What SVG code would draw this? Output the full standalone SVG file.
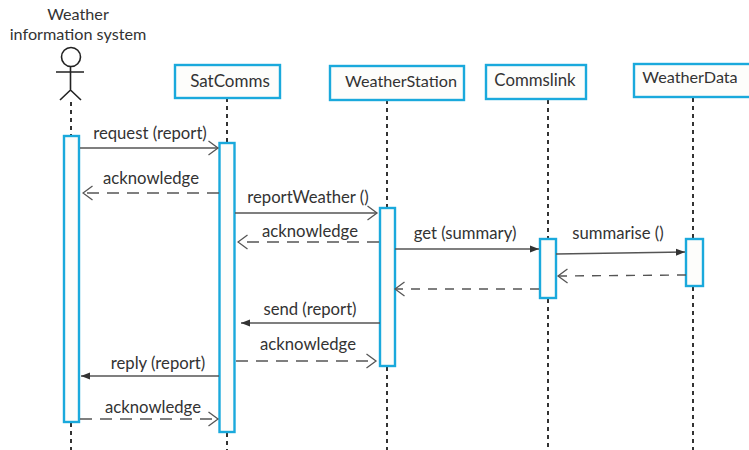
<svg xmlns="http://www.w3.org/2000/svg" width="749" height="450" viewBox="0 0 749 450">
<style>
text{font-family:"Lato","Open Sans","Liberation Sans",sans-serif;font-size:16.2px;fill:#333;text-anchor:middle}
#labels text{font-size:16.7px}
#satcomms text{font-size:17px}
#commslink text{font-size:16.800px}
.box{fill:#fdfdfb;stroke:#1aa9dc;stroke-width:2.4}
.life{stroke:#333;stroke-width:2;stroke-dasharray:4 4;fill:none}
.msg{stroke:#555;stroke-width:1.4;fill:none}
.dash{stroke-dasharray:12 8}
.short{stroke-dasharray:9 8}
.stick{stroke:#222;stroke-width:1.6;fill:none}
</style>
<defs>
<marker id="open" markerUnits="userSpaceOnUse" markerWidth="12" markerHeight="16" refX="10.500" refY="8" orient="auto"><path d="M1 1L10.500 8L1 15" fill="none" stroke="#555" stroke-width="1.3"/></marker>
<marker id="solid" markerUnits="userSpaceOnUse" markerWidth="10" markerHeight="8" refX="9" refY="4" orient="auto"><path d="M0 0.5L9 4L0 7.5Z" fill="#333"/></marker>
</defs>
<rect width="749" height="450" fill="#fff"/>
<g id="lifelines">
<path class="life" d="M71 102V135M71 423V450M227 98V142M227 433V450M387 100V208M387 367V450M548 100V238M548 299V450M693 98V238M693 287V450"/>
</g>
<g id="actor">
<text x="78" y="20">Weather</text>
<text x="78" y="40">information system</text>
<circle cx="71" cy="57" r="9.5" fill="#fff" stroke="#222" stroke-width="1.6"/>
<path class="stick" d="M56 72H84M70.500 67V90M60 100L70.500 90L81 100"/>
</g>
<g id="satcomms"><rect class="box" x="175" y="65" width="105" height="33"/><text x="230" y="87">SatComms</text></g>
<g id="weatherstation"><rect class="box" x="330" y="66" width="134" height="34"/><text x="401" y="87">WeatherStation</text></g>
<g id="commslink"><rect class="box" x="486" y="65" width="100" height="34"/><text x="535" y="86">Commslink</text></g>
<g id="weatherdata"><rect class="box" x="634" y="64" width="118" height="33"/><text x="690" y="83">WeatherData</text></g>
<g id="act-actor"><rect class="box" x="64" y="136" width="15" height="286"/></g>
<g id="act-satcomms"><rect class="box" x="219.500" y="143" width="15" height="289"/></g>
<g id="act-station"><rect class="box" x="380" y="208" width="15" height="158"/></g>
<g id="act-comms"><rect class="box" x="540" y="239" width="16" height="59"/></g>
<g id="act-data"><rect class="box" x="686" y="239" width="17" height="47"/></g>
<g id="connectors">
<path class="msg" marker-end="url(#open)" d="M80 148H218"/>
<path class="msg dash" marker-end="url(#open)" d="M219 193H83"/>
<path class="msg" marker-end="url(#open)" d="M235 213H377"/>
<path class="msg dash" marker-end="url(#open)" d="M379 242H238"/>
<path class="msg" marker-end="url(#solid)" d="M395 249H539"/>
<path class="msg" marker-end="url(#solid)" d="M556 254L685 252"/>
<path class="msg short" marker-end="url(#open)" d="M686 275L558 276"/>
<path class="msg short" marker-end="url(#open)" d="M539 289H395"/>
<path class="msg" marker-end="url(#solid)" d="M380 323H241"/>
<path class="msg dash" marker-end="url(#open)" d="M236 361H376"/>
<path class="msg" marker-end="url(#solid)" d="M219 376H81"/>
<path class="msg dash" marker-end="url(#open)" d="M80 419H218"/>
</g>
<g id="labels">
<text x="150" y="139">request (report)</text>
<text x="151" y="184">acknowledge</text>
<text x="308" y="203">reportWeather ()</text>
<text x="310" y="237">acknowledge</text>
<text x="465" y="239">get (summary)</text>
<text x="618" y="239">summarise ()</text>
<text x="310" y="315">send (report)</text>
<text x="308" y="350">acknowledge</text>
<text x="158" y="369">reply (report)</text>
<text x="153" y="413">acknowledge</text>
</g>
</svg>
